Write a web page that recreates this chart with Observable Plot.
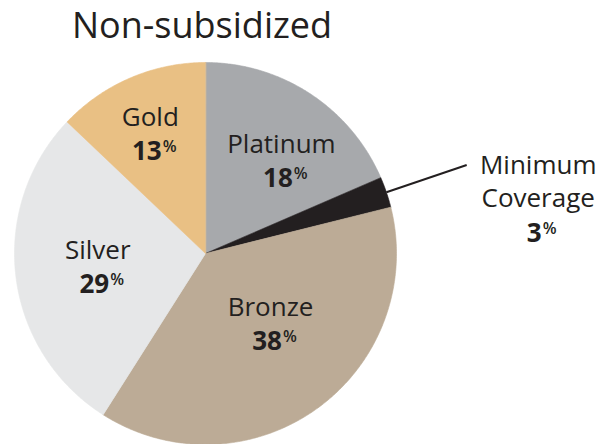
<!DOCTYPE html>
<html>
<head>
<meta charset="utf-8">
<script src="https://cdn.jsdelivr.net/npm/d3@7"></script>
<script src="https://cdn.jsdelivr.net/npm/@observablehq/plot@0.6"></script>
<style>
  body { margin: 0; background: #fff; }
  #chart svg { display: block; }
</style>
</head>
<body>
<div id="chart"></div>
<script>
// ---- data ----
const title = "Non-subsidized";
const tiers = ["Platinum", "Minimum Coverage", "Bronze", "Silver", "Gold"];
const shares = [18.5, 2.6, 37.9, 28.1, 12.9];          // slice sizes
const pctLabels = ["18", "3", "38", "29", "13"];         // printed percentages
const tierColors = ["#a7a9ac", "#231f20", "#bcab96", "#e6e7e8", "#e9c084"];

// ---- layout (pixels) ----
const W = 615, H = 444;
const R = 191;                       // pie radius in px
const cxPx = 205, cyPx = 253;        // pie centre in px
const ink = "#231f20";
const font = "Open Sans, sans-serif";
const nameSize = 26, numSize = 26, pctSize = 16;
const labelRadius = 0.6;
const labelNudge = [[13, 2], [0, 0], [-2, -23], [6, -1.5], [-10, -15]]; // px (x right, y down)
const wPct = 15;

const arcs = d3.pie().sort(null).value(d => d)(shares);
const px = v => v / R; // px offset -> data units

// slice polygons
const polys = [];
arcs.forEach((a, i) => {
  polys.push({tier: tiers[i], x: 0, y: 0});
  const n = Math.max(4, Math.ceil((a.endAngle - a.startAngle) / (Math.PI / 360)));
  for (let k = 0; k <= n; k++) {
    const t = a.startAngle + (a.endAngle - a.startAngle) * k / n;
    polys.push({tier: tiers[i], x: Math.sin(t), y: Math.cos(t)});
  }
});

// inside labels
const nameRows = [], numRows = [];
let mc = null;
arcs.forEach((a, i) => {
  const mid = (a.startAngle + a.endAngle) / 2;
  if (tiers[i] === "Minimum Coverage") { mc = {i, mid}; return; }
  const cx = labelRadius * Math.sin(mid) + px(labelNudge[i][0]);
  const cy = labelRadius * Math.cos(mid) - px(labelNudge[i][1]);
  nameRows.push({x: cx, y: cy + px(7), text: tiers[i]});
  const wNum = pctLabels[i].length * 0.572 * numSize;
  const gx = cx + px(4) + px((wNum - wPct) / 2);
  numRows.push({x: gx, y: cy - px(27), num: pctLabels[i]});
});

// minimum coverage callout
const r0 = 1.0, r1 = 1.444;
const leader = [{
  x1: r0 * Math.sin(mc.mid), y1: r0 * Math.cos(mc.mid),
  x2: r1 * Math.sin(mc.mid), y2: r1 * Math.cos(mc.mid)
}];
const ex = leader[0].x2, ey = leader[0].y2;
const mcWords = tiers[mc.i].split(" ");
nameRows.push({x: ex + px(71.5), y: ey - px(9), text: mcWords[0]});
nameRows.push({x: ex + px(71.5), y: ey - px(42), text: mcWords[1]});
{
  const wNum = pctLabels[mc.i].length * 0.572 * numSize;
  numRows.push({x: ex + px(75) + px((wNum - wPct) / 2), y: ey - px(77), num: pctLabels[mc.i]});
}

const chart = Plot.plot({
  width: W,
  height: H,
  margin: 0,
  style: {fontFamily: font, color: ink, background: "#fff"},
  x: {domain: [-1, 1], range: [cxPx - R, cxPx + R], axis: null},
  y: {domain: [-1, 1], range: [cyPx + R, cyPx - R], axis: null},
  color: {domain: tiers, range: tierColors},
  marks: [
    Plot.line(polys, {x: "x", y: "y", z: "tier", fill: "tier", stroke: "tier", strokeWidth: 0.6, curve: "linear-closed"}),
    Plot.link(leader, {x1: "x1", y1: "y1", x2: "x2", y2: "y2", stroke: ink, strokeWidth: 2}),
    Plot.text(nameRows, {x: "x", y: "y", text: "text", fontSize: nameSize, fill: ink, lineAnchor: "bottom", textAnchor: "middle"}),
    Plot.text(numRows, {x: "x", y: "y", text: "num", fontSize: numSize, fontWeight: "bold", fill: ink, lineAnchor: "bottom", textAnchor: "end"}),
    Plot.text(numRows, {x: "x", y: "y", text: () => "%", fontSize: pctSize, fontWeight: 600, fill: ink, lineAnchor: "bottom", textAnchor: "start", dx: 1, dy: -8}),
    Plot.text([title], {x: () => (201.5 - cxPx) / R, frameAnchor: "top", dy: 37, text: d => d, fontSize: 36, fill: ink, lineAnchor: "bottom", textAnchor: "middle"})
  ]
});
document.getElementById("chart").appendChild(chart);
</script>
</body>
</html>
